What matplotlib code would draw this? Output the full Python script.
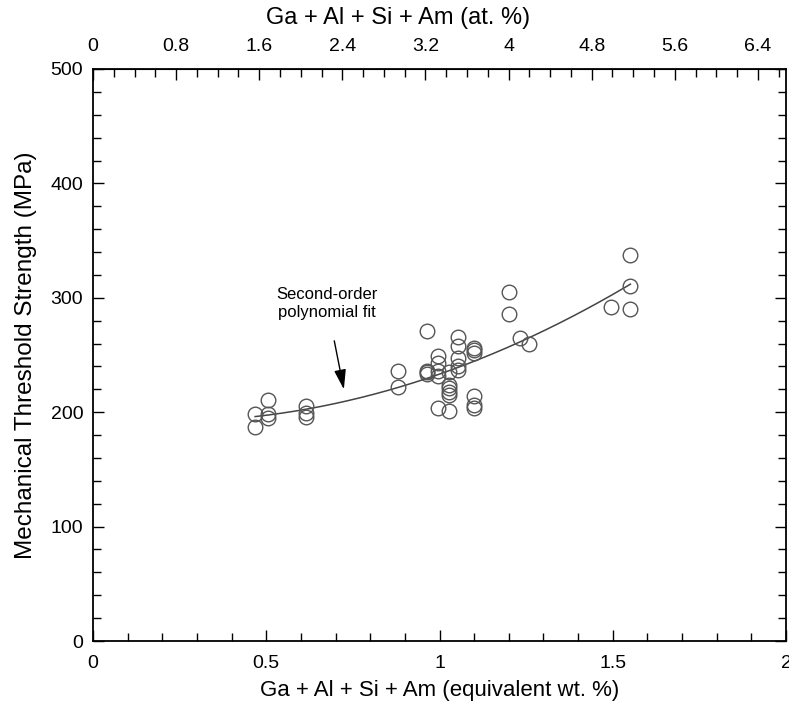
import numpy as np
import matplotlib
matplotlib.use("Agg")
from matplotlib import pyplot as plt
from matplotlib.ticker import MultipleLocator, FuncFormatter

plt.rcParams['font.family'] = ['Liberation Sans', 'DejaVu Sans']

# measured points: composition (equivalent wt. %) and threshold strength (MPa)
wt = [0.468, 0.468, 0.505, 0.505, 0.505, 0.615, 0.615, 0.615,
      0.881, 0.881,
      0.965, 0.965, 0.965, 0.965,
      0.997, 0.997, 0.997, 0.997, 0.997,
      1.028, 1.028, 1.028, 1.028, 1.028, 1.028,
      1.054, 1.054, 1.054, 1.054, 1.054,
      1.100, 1.100, 1.100, 1.100, 1.100, 1.100,
      1.200, 1.200, 1.232, 1.258,
      1.494, 1.551, 1.551, 1.551]
mpa = [198, 187, 211, 198, 195, 205, 199, 196,
       236, 222,
       271, 236, 233, 235,
       249, 243, 236, 232, 204,
       235, 224, 221, 218, 215, 201,
       266, 258, 247, 240, 237,
       256, 254, 252, 214, 206, 204,
       305, 286, 265, 260,
       292, 337, 310, 290]

# wt.% -> at.% conversion for the top axis
at_per_wt = 3.335

fig = plt.figure(figsize=(7.89, 7.08), dpi=100)
ax = fig.add_axes([93/789, 67/708, 693/789, 572/708])

coef = np.polyfit(wt, mpa, 2)
xf = np.linspace(min(wt), max(wt), 200)
ax.plot(xf, np.polyval(coef, xf), '-', color='#444444', linewidth=1.1, zorder=2)

ax.plot(wt, mpa, 'o', markersize=10.5, markerfacecolor='none',
        markeredgecolor='#555555', markeredgewidth=1.0, zorder=3)

ax.annotate("Second-order\npolynomial fit", xy=(0.724, 220), xytext=(0.675, 295),
            ha='center', va='center', fontsize=12, linespacing=1.3,
            arrowprops=dict(arrowstyle='-|>,head_length=1.0,head_width=0.3',
                            color='black', lw=1.0, shrinkA=13, shrinkB=0))

fmt = FuncFormatter(lambda v, p: f"{v:g}")

ax.set_xlim(0, 2)
ax.set_ylim(0, 500)
ax.xaxis.set_major_locator(MultipleLocator(0.5))
ax.xaxis.set_minor_locator(MultipleLocator(0.1))
ax.yaxis.set_major_locator(MultipleLocator(100))
ax.yaxis.set_minor_locator(MultipleLocator(20))
ax.xaxis.set_major_formatter(fmt)
ax.tick_params(which='both', direction='in', top=False, right=True, labelsize=14)
ax.tick_params(which='major', length=8, width=1)
ax.tick_params(which='minor', length=5.5, width=1)
ax.tick_params(axis='x', pad=10)
ax.tick_params(axis='y', pad=7)

ax.set_xlabel("Ga + Al + Si + Am (equivalent wt. %)", fontsize=16, labelpad=6)
ax.set_ylabel("Mechanical Threshold Strength (MPa)", fontsize=17.5, labelpad=10)

top = ax.secondary_xaxis('top', functions=(lambda x: x*at_per_wt, lambda x: x/at_per_wt))
top.xaxis.set_major_locator(MultipleLocator(0.8))
top.xaxis.set_minor_locator(MultipleLocator(0.2))
top.xaxis.set_major_formatter(fmt)
top.tick_params(which='both', direction='in', labelsize=14, pad=10)
top.tick_params(which='major', length=8, width=1)
top.tick_params(which='minor', length=5.5, width=1)
top.set_xlabel("Ga + Al + Si + Am (at. %)", fontsize=17, labelpad=10)
top.xaxis.label.set_x(0.44)

for s in ax.spines.values():
    s.set_linewidth(1.3)

plt.savefig("out.png", dpi=100)
